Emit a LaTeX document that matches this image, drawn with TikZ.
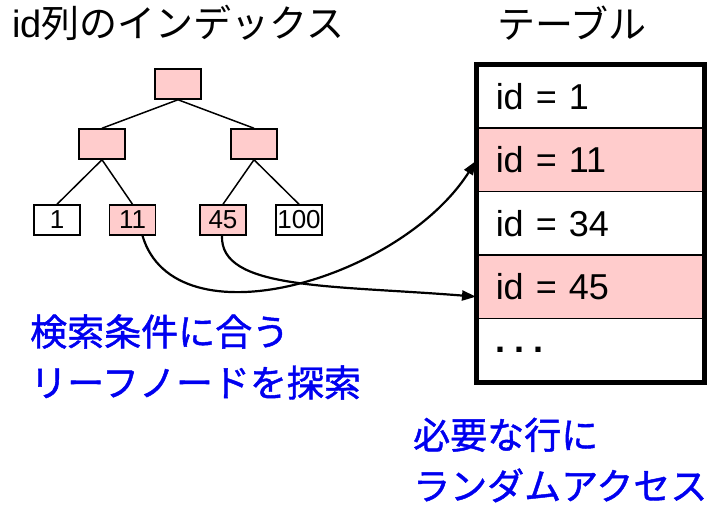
\documentclass[tikz,border=0pt]{standalone}
\usepackage{fontspec}
\setmainfont{Liberation Sans}
\newfontfamily\jp{Noto Sans CJK JP}
\newfontfamily\jpnote[FakeBold=1.2]{Noto Sans CJK JP}
\usetikzlibrary{arrows.meta}
\definecolor{pinkfill}{HTML}{FFCCCC}
\definecolor{bluetext}{HTML}{0000F0}
\begin{document}
\begin{tikzpicture}[x=1pt,y=-1pt,
  treebox/.style={draw, line width=1.5pt, minimum width=46pt, minimum height=30pt, inner sep=0pt, font=\fontsize{26}{28}\selectfont},
  hit/.style={fill=pinkfill},
  treeedge/.style={line width=1.5pt},
  rowbox/.style={draw, line width=1.5pt, minimum height=63.4pt, text width=189pt, inner xsep=19pt, inner ysep=0pt, align=left, anchor=north west, font=\fontsize{36}{40}\selectfont},
  link/.style={line width=2.2pt, -{Triangle[length=14pt,width=10pt]}},
  titletext/.style={font=\fontsize{38}{44}\selectfont, inner sep=0pt},
  note/.style={font=\jpnote\fontsize{37}{51}\selectfont, text=bluetext, align=left, inner sep=0pt}
]
\useasboundingbox (0,0) rectangle (714,504);

% titles
\node[titletext, anchor=west] (ttl) at (12,23) {id{\jp 列のインデックス}};
\node[titletext, anchor=west] (ttr) at (497,23) {\jp テーブル};

% index tree
\node[treebox, hit] (root) at (178,84) {};
\node[treebox, hit] (lm) at (102,144) {};
\node[treebox, hit] (rm) at (254,144) {};
\node[treebox] (l1) at (57,220) {1};
\node[treebox, hit] (l11) at (132.5,220) {11};
\node[treebox, hit] (l45) at (223,220) {45};
\node[treebox] (l100) at (299,220) {100};
\draw[treeedge] (root.south) -- (lm.north);
\draw[treeedge] (root.south) -- (rm.north);
\draw[treeedge] (lm.south) -- (l1.north);
\draw[treeedge] (lm.south) -- (l11.north);
\draw[treeedge] (rm.south) -- (l45.north);
\draw[treeedge] (rm.south) -- (l100.north);

% table
\node[rowbox] (r1) at (476,64) {id = 1};
\node[rowbox, hit] (r2) at (476,127.4) {id = 11};
\node[rowbox] (r3) at (476,190.8) {id = 34};
\node[rowbox, hit] (r4) at (476,254.2) {id = 45};
\node[rowbox] (r5) at (476,317.6) {\textbf{.\kern9pt.\kern9pt.}};
\draw[line width=5pt] (r1.north west) rectangle (r5.south east);

% links
\draw[link] ([xshift=10pt]l11.south) .. controls (175,345) and (400,280) .. ([yshift=-1pt]r2.west);
\draw[link] ([xshift=-1pt]l45.south) .. controls (220,290) and (330,285) .. ([yshift=-10pt]r4.west);

% notes
\node[note, anchor=west] (n1) at (30,357) {検索条件に合う\\リーフノードを探索};
\node[note, anchor=west] (n2) at (413,460) {必要な行に\\ランダムアクセス};
\end{tikzpicture}
\end{document}
